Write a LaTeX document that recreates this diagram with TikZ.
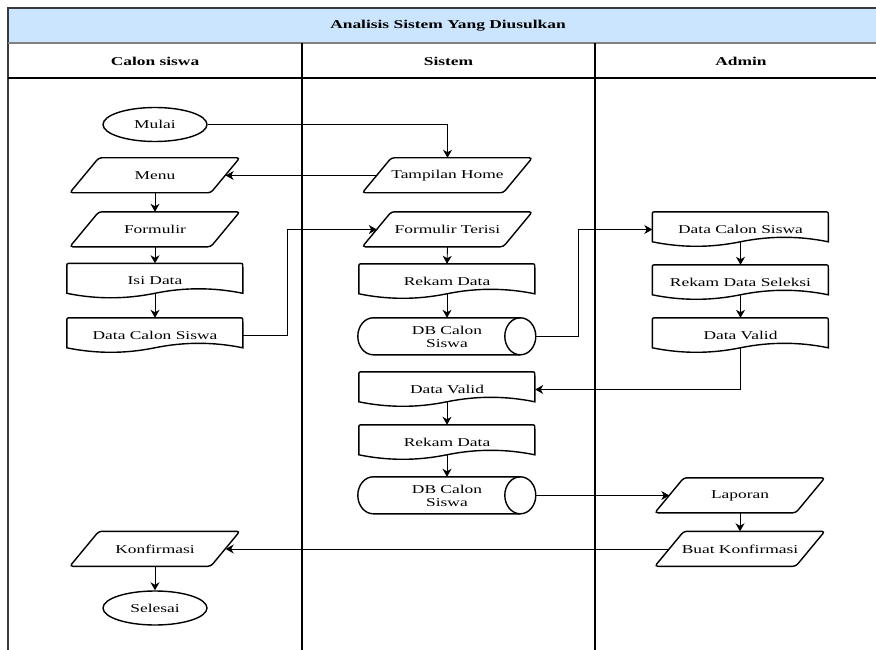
\documentclass[tikz,border=0pt]{standalone}
\usepackage{fontspec}
\setmainfont{Liberation Serif}[FakeStretch=1.45]
\usetikzlibrary{arrows.meta,shapes.geometric,calc}

\definecolor{headfill}{HTML}{CCE5FF}
\definecolor{headline}{HTML}{36393D}

\tikzset{
  every node/.style={font=\fontsize{12}{13}\selectfont},
  outline/.style={draw=black, line width=1.4pt},
  terminal/.style={ellipse, outline, minimum width=104pt, minimum height=34pt, inner sep=0pt},
  iobox/.style={minimum width=141pt, minimum height=35pt, inner sep=0pt},
  docbox/.style={minimum width=176pt, minimum height=35pt, inner sep=0pt},
  storebox/.style={minimum width=178pt, minimum height=37pt, inner sep=0pt, align=center},
  lanetitle/.style={font=\fontsize{12}{13}\selectfont\bfseries},
  flow/.style={draw=black, line width=0.9pt, -{Stealth[length=8pt,width=9pt,inset=2.5pt]}},
}

% parallelogram (input/output) drawn around a node; west/east anchors sit on the slanted sides
\newcommand\ioline[1]{%
  \begin{scope}[shift={(#1.north west)}]
    \draw[outline, rounded corners=3pt] (-14.5,35) -- (14.5,0) -- (155.5,0) -- (126.5,35) -- cycle;
  \end{scope}}

% document shape with a wavy lower edge
\newcommand\docline[1]{%
  \begin{scope}[shift={(#1.north west)}]
    \draw[outline] (0,30) -- (0,4) .. controls (0,0) .. (4,0) -- (172,0)
      .. controls (176,0) .. (176,4) -- (176,30)
      .. controls (146.67,24) and (117.33,24) .. (88,30)
      .. controls (58.67,36) and (29.33,36) .. (0,30) -- cycle;
  \end{scope}}

% horizontal cylinder (stored data)
\newcommand\storeline[1]{%
  \begin{scope}[shift={(#1.north west)}]
    \draw[outline] (162.5,0) -- (15.5,0) arc[start angle=90, end angle=270, x radius=15.5pt, y radius=18.5pt] -- (162.5,37);
    \draw[outline] (162.5,18.5) ellipse[x radius=15.5pt, y radius=18.5pt];
  \end{scope}}

\begin{document}
\begin{tikzpicture}[x=1pt, y=-1pt]
\useasboundingbox (0,0) rectangle (876,650);

% swimlane frame
\fill[headfill] (8,8) rectangle (876,43);
\draw[headline, line width=1.2pt] (876,8) -- (8,8) -- (8,650);
\draw[gray, line width=1.4pt] (8,43) -- (876,43);
\draw[black, line width=1.2pt] (8,78) -- (876,78);
\draw[black, line width=1.2pt] (302,43) -- (302,650);
\draw[black, line width=1.2pt] (595,43) -- (595,650);

\node[lanetitle] (title) at (448,26) {Analisis Sistem Yang Diusulkan};
\node[lanetitle] (lane1) at (155,61) {Calon siswa};
\node[lanetitle] (lane2) at (448.5,61) {Sistem};
\node[lanetitle] (lane3) at (741,61) {Admin};

% Calon siswa
\node[terminal] (mulai) at (155,124.5) {Mulai};
\node[iobox] (menu) at (155,175.5) {Menu};
\node[iobox] (formulir) at (155,229.5) {Formulir};
\node[docbox] (isidata) at (155,281) {Isi Data};
\node[docbox] (dcs1) at (155,335.5) {Data Calon Siswa};
\node[iobox] (konfirmasi) at (155,549) {Konfirmasi};
\node[terminal] (selesai) at (155,608) {Selesai};

% Sistem
\node[iobox] (tampilan) at (447.5,175.5) {Tampilan Home};
\node[iobox] (formterisi) at (447.5,229.5) {Formulir Terisi};
\node[docbox] (rekam1) at (447,281.5) {Rekam Data};
\node[storebox] (db1) at (447,336.5) {DB Calon\\Siswa};
\node[docbox] (valid2) at (447,389.5) {Data Valid};
\node[docbox] (rekam2) at (447,442.5) {Rekam Data};
\node[storebox] (db2) at (447,495.5) {DB Calon\\Siswa};

% Admin
\node[docbox] (dcs3) at (740.5,229.5) {Data Calon Siswa};
\node[docbox] (seleksi) at (740.5,282.5) {Rekam Data Seleksi};
\node[docbox] (valid3) at (740.5,335.5) {Data Valid};
\node[iobox] (laporan) at (740,495.5) {Laporan};
\node[iobox] (buat) at (740,549) {Buat Konfirmasi};

\foreach \n in {menu,formulir,konfirmasi,tampilan,formterisi,laporan,buat} {\ioline{\n}}
\foreach \n in {isidata,dcs1,rekam1,valid2,rekam2,dcs3,seleksi,valid3} {\docline{\n}}
\foreach \n in {db1,db2} {\storeline{\n}}

% flow
\draw[flow] (mulai.east) -| (tampilan.north);
\draw[flow] (tampilan.west) -- (menu.east);
\draw[flow] (menu.south) -- (formulir.north);
\draw[flow] (formulir.south) -- (isidata.north);
\draw[flow] ($(isidata.south)+(0pt,5pt)$) -- (dcs1.north);
\draw[flow] (dcs1.east) -- ++(44,0) |- (formterisi.west);
\draw[flow] (formterisi.south) -- (rekam1.north);
\draw[flow] ($(rekam1.south)+(0pt,5pt)$) -- (db1.north);
\draw[flow] (db1.east) -- ++(42,0) |- (dcs3.west);
\draw[flow] ($(dcs3.south)+(0pt,5pt)$) -- (seleksi.north);
\draw[flow] ($(seleksi.south)+(0pt,5pt)$) -- (valid3.north);
\draw[flow] ($(valid3.south)+(0pt,5pt)$) |- (valid2.east);
\draw[flow] ($(valid2.south)+(0pt,5pt)$) -- (rekam2.north);
\draw[flow] ($(rekam2.south)+(0pt,5pt)$) -- (db2.north);
\draw[flow] (db2.east) -- (laporan.west);
\draw[flow] (laporan.south) -- (buat.north);
\draw[flow] (buat.west) -- (konfirmasi.east);
\draw[flow] (konfirmasi.south) -- (selesai.north);
\end{tikzpicture}
\end{document}
